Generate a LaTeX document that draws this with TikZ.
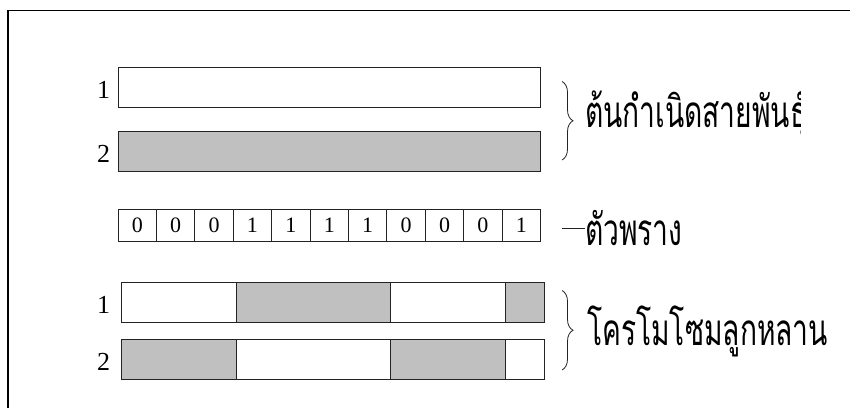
\documentclass[tikz,border=0pt]{standalone}
\usepackage{fontspec}
\setmainfont{Liberation Serif}
\newfontfamily\thaifont[Script=Thai,FakeStretch=0.64]{Loma}
\usetikzlibrary{decorations.pathreplacing}
\definecolor{barfill}{RGB}{192,192,192}
\definecolor{ink}{RGB}{35,35,35}

\begin{document}
\begin{tikzpicture}[x=1pt,y=-1pt,
  bar/.style={draw=ink,line width=1.1pt,rectangle,inner sep=0pt,anchor=north west,minimum height=40pt},
  cell/.style={draw=ink,line width=1.1pt,rectangle,inner sep=0pt,anchor=north west,
    minimum width=38.41pt,minimum height=32pt,font=\fontsize{22}{22}\selectfont},
  shaded/.style={fill=barfill},
  plain/.style={fill=white},
  rowlabel/.style={inner sep=0pt,font=\fontsize{26}{26}\selectfont},
  thailabel/.style={inner sep=0pt,anchor=base west,font=\thaifont\fontsize{44}{46}\selectfont},
  bracket/.style={draw=ink,line width=0.8pt,decorate,decoration={brace,amplitude=11pt}}]
\useasboundingbox (0,0) rectangle (850,408);

% outer frame (open to the right and bottom)
\draw[line width=1.4pt] (8,408) -- (8,10.5) -- (850,10.5);

% parent chromosomes
\node[bar,plain,minimum width=422.5pt] (p1) at (117.5,66.5) {};
\node[bar,shaded,minimum width=422.5pt] (p2) at (117.5,130.5) {};
\node[rowlabel] (p1lab) at (103.5,89.5) {1};
\node[rowlabel] (p2lab) at (103.5,154) {2};

% crossover mask
\foreach \b [count=\i from 0] in {0,0,0,1,1,1,1,0,0,0,1} {
  \node[cell] (m\i) at ({117.5+38.41*\i},208.5) {\raisebox{-5pt}{\b}};
}

% offspring chromosomes
\node[bar,plain,minimum width=115pt] (c1a) at (121,282) {};
\node[bar,shaded,minimum width=153.5pt] (c1b) at (236,282) {};
\node[bar,plain,minimum width=115.5pt] (c1c) at (389.5,282) {};
\node[bar,shaded,minimum width=38.5pt] (c1d) at (505,282) {};
\node[bar,shaded,minimum width=115pt] (c2a) at (121,339) {};
\node[bar,plain,minimum width=153.5pt] (c2b) at (236,339) {};
\node[bar,shaded,minimum width=115.5pt] (c2c) at (389.5,339) {};
\node[bar,plain,minimum width=38.5pt] (c2d) at (505,339) {};
\node[rowlabel] (c1lab) at (103.5,305) {1};
\node[rowlabel] (c2lab) at (103.5,362) {2};

% braces and captions
\coordinate (bt1) at (562,81.5);
\coordinate (bb1) at (562,160);
\draw[bracket] (bt1) -- (bb1);
\begin{scope}
  \clip (575,60) rectangle (800,180);
  \node[thailabel] (parents) at (585,127) {ต้นกำเนิดสายพันธุ์};
\end{scope}

\node[thailabel] (mask) at (585,245) {ตัวพราง};
\coordinate (dashstart) at (562,228.5);
\draw[ink,line width=1pt] (dashstart) -- (dashstart -| mask.west) ++(-7,0);
\coordinate (bt2) at (562,290.5);
\coordinate (bb2) at (562,370);
\draw[bracket] (bt2) -- (bb2);
\node[thailabel] (children) at (587,345) {โครโมโซมลูกหลาน};
\end{tikzpicture}
\end{document}
